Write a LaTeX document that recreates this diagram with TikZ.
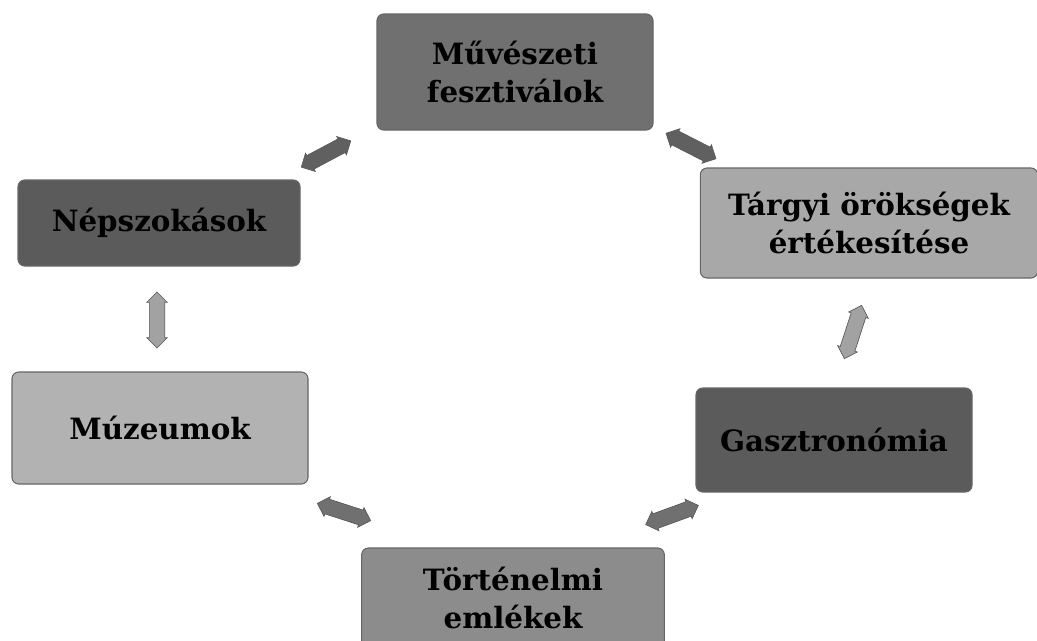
\documentclass[tikz,border=0pt]{standalone}
\usepackage{fontspec}
\setmainfont{DejaVu Serif}
\usepackage{xcolor}
\usetikzlibrary{shapes.arrows}
\definecolor{boxdark}{HTML}{5B5B5B}
\definecolor{boxmid}{HTML}{707070}
\definecolor{boxgrey}{HTML}{8C8C8C}
\definecolor{boxlight}{HTML}{A8A8A8}
\definecolor{boxpale}{HTML}{B2B2B2}
\definecolor{arrdark}{HTML}{606060}
\definecolor{arrlight}{HTML}{A2A2A2}

\begin{document}
\begin{tikzpicture}[x=0.75pt,y=-0.75pt,
	box/.style={draw=black!60,line width=0.8pt,rounded corners=5pt,align=center,
		font=\bfseries\fontsize{22}{28.5}\selectfont,inner sep=2pt},
	dblarr/.style={double arrow,draw=black!65,line width=0.5pt,inner xsep=0pt,inner ysep=5.5pt,
		double arrow head extend=2pt,minimum height=42pt}]
			\useasboundingbox (0,0) rectangle (1037,640);
			\clip (0,0) rectangle (1037,640);
			%kulturalis elemek
			\node[box,fill=boxmid,minimum width=207pt,minimum height=87pt] (fesztival) at (515,72) {Művészeti\\fesztiválok};
			\node[box,fill=boxdark,minimum width=211.5pt,minimum height=64.5pt] (nepszokas) at (159,223) {Népszokások};
			\node[box,fill=boxlight,minimum width=253pt,minimum height=82.5pt] (targyi) at (869,223) {Tárgyi örökségek\\értékesítése};
			\node[box,fill=boxpale,minimum width=222pt,minimum height=84pt] (muzeum) at (160,428) {Múzeumok};
			\node[box,fill=boxdark,minimum width=207pt,minimum height=78pt] (gasztro) at (834,440) {Gasztronómia};
			\node[box,fill=boxgrey,minimum width=227pt,minimum height=75pt] (emlek) at (513,598) {Történelmi\\emlékek};
			%kapcsolatok
			\node[dblarr,fill=arrdark,rotate=28] (a1) at (326,154) {};
			\node[dblarr,fill=arrdark,rotate=-27] (a2) at (691,146) {};
			\node[dblarr,fill=arrlight,rotate=72] (a3) at (853,332) {};
			\node[dblarr,fill=arrlight,rotate=90] (a4) at (157,320) {};
			\node[dblarr,fill=boxmid,rotate=-18] (a5) at (344,512) {};
			\node[dblarr,fill=boxmid,rotate=20] (a6) at (672,515) {};
		\end{tikzpicture}
\end{document}
